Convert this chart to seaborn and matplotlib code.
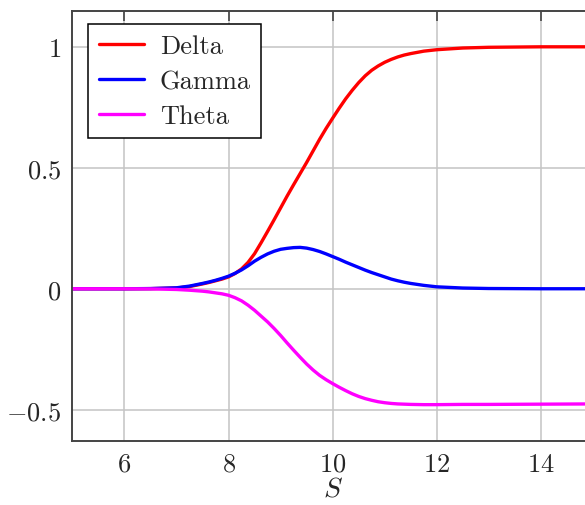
import numpy as np
import pandas as pd
import matplotlib
matplotlib.use("Agg")
import matplotlib.pyplot as plt
from matplotlib.ticker import FuncFormatter
import seaborn as sns

# values
S = [5, 6, 6.5, 7, 7.25,
     7.5, 7.625, 7.75, 7.875, 8.0, 8.125, 8.25, 8.375, 8.5, 8.625, 8.75, 8.875,
     9.0, 9.125, 9.25, 9.375, 9.5, 9.625, 9.75, 9.875, 10.0, 10.125, 10.25,
     10.375, 10.5, 10.625, 10.75, 10.875, 11.0, 11.125, 11.25, 11.375, 11.5,
     11.75, 12, 12.5, 13, 14, 15]
delta = [0, 0, 0.0005, 0.003, 0.009,
         0.02, 0.026, 0.033, 0.04, 0.049, 0.063, 0.082, 0.109, 0.145, 0.19, 0.237,
         0.285, 0.334, 0.383, 0.43, 0.476, 0.522, 0.57, 0.618, 0.663, 0.705,
         0.746, 0.785, 0.82, 0.852, 0.88, 0.903, 0.921, 0.936, 0.948, 0.958,
         0.966, 0.972, 0.982, 0.988, 0.995, 0.998, 1.0, 1.0]
gamma = [0, 0, 0.0008, 0.004, 0.011,
         0.022, 0.028, 0.035, 0.043, 0.052, 0.064, 0.078, 0.095, 0.114, 0.13,
         0.144, 0.155, 0.163, 0.167, 0.17, 0.171, 0.168, 0.162, 0.154, 0.144,
         0.133, 0.122, 0.11, 0.099, 0.088, 0.077, 0.067, 0.058, 0.049, 0.04,
         0.033, 0.027, 0.022, 0.014, 0.008, 0.003, 0.001, 0, 0]
theta = [0, 0, -0.0005, -0.003, -0.006,
         -0.01, -0.013, -0.017, -0.021, -0.027, -0.037, -0.05, -0.068, -0.089,
         -0.113, -0.137, -0.164, -0.193, -0.224, -0.254, -0.283, -0.311, -0.336,
         -0.358, -0.376, -0.392, -0.407, -0.421, -0.434, -0.445, -0.454, -0.461,
         -0.467, -0.471, -0.474, -0.476, -0.477, -0.478, -0.479, -0.479, -0.478,
         -0.478, -0.477, -0.476]
names = ["Delta", "Gamma", "Theta"]
colors = {"Delta": "#ff0000", "Gamma": "#0000ff", "Theta": "#ff00ff"}

df = pd.DataFrame({"S": S, "Delta": delta, "Gamma": gamma, "Theta": theta})
long = df.melt(id_vars="S", var_name="greek", value_name="value")

sns.set_style("whitegrid")
plt.rcParams["font.family"] = "serif"
plt.rcParams["font.serif"] = ["cmr10", "DejaVu Serif"]
plt.rcParams["mathtext.fontset"] = "cm"
plt.rcParams["axes.unicode_minus"] = True

fig = plt.figure(figsize=(5.85, 5.06), dpi=100)
ax = fig.add_axes([72.4 / 585, 1 - 441.7 / 506, 520.5 / 585, 429.7 / 506])

sns.lineplot(data=long, x="S", y="value", hue="greek", hue_order=names,
             palette=colors, linewidth=2.4, ax=ax)

ax.set_xlim(5, 15)
ax.set_ylim(-0.628, 1.148)
ax.set_xticks([6, 8, 10, 12, 14])
ax.set_yticks([-0.5, 0, 0.5, 1])
ax.xaxis.set_major_formatter(FuncFormatter(lambda v, p: f"${v:g}$"))
ax.yaxis.set_major_formatter(FuncFormatter(lambda v, p: f"${v:g}$"))
ax.tick_params(direction="in", length=7, width=1.2, color="#444444",
               labelsize=19, top=True, right=False, pad=8)
ax.grid(True, color="#c4c4c4", linewidth=1.1)
for sp in ax.spines.values():
    sp.set_color("#444444")
    sp.set_linewidth(1.4)

ax.set_xlabel("$S$", fontsize=20, labelpad=0)
ax.set_ylabel("")

leg = ax.legend(loc="upper left", bbox_to_anchor=(16 / 520.5, 1 - 13 / 429.7),
                borderaxespad=0, fontsize=19, frameon=True, fancybox=False,
                edgecolor="black", framealpha=1, handlelength=1.7,
                labelspacing=0.42, borderpad=0.4, handletextpad=0.6)
leg.get_frame().set_linewidth(1.1)
for line in leg.get_lines():
    line.set_linewidth(2.4)

fig.savefig("out.png", dpi=100)
